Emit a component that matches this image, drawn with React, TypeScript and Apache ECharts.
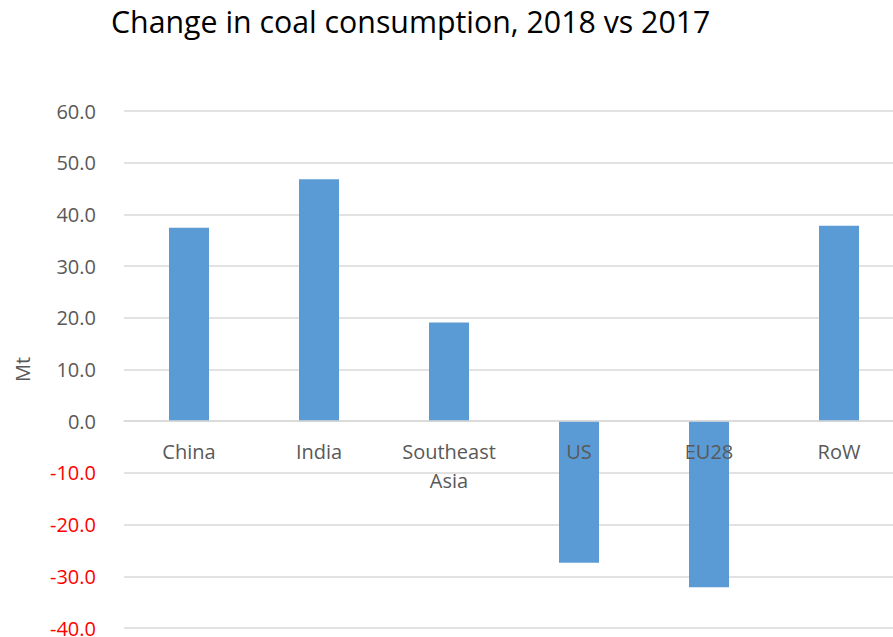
import React, { useEffect, useRef } from "react";
import * as echarts from "echarts";

const categories = ["China", "India", "Southeast\nAsia", "US", "EU28", "RoW"];
const values = [37.4, 46.8, 19.1, -27.4, -32.1, 37.8];
const yMin = -40;
const yMax = 60;
const yInterval = 10;
const titleText = "Change in coal consumption, 2018 vs 2017";
const yAxisName = "Mt";

export default function App() {
  const ref = useRef<HTMLDivElement>(null);
  useEffect(() => {
    document.body.style.margin = "0";
    const chart = echarts.init(ref.current!, null, { renderer: "svg" });
    const font = "'Open Sans', 'Noto Sans', sans-serif";
    const H = 637;
    const gridTop = 111;
    const gridBottom = 9;
    const plotH = H - gridTop - gridBottom;
    const zeroOffset = -((0 - yMin) / (yMax - yMin)) * plotH;
    chart.setOption({
      animation: false,
      backgroundColor: "#ffffff",
      title: {
        text: titleText,
        left: 106,
        top: 1,
        textStyle: { fontFamily: font, fontSize: 30.3, fontWeight: "normal", color: "#000000" },
      },
      grid: {
        left: 124,
        right: -11,
        top: gridTop,
        bottom: gridBottom,
        containLabel: false,
        outerBoundsMode: "none",
      },
      xAxis: {
        type: "category",
        data: categories,
        z: 5,
        position: "bottom",
        offset: zeroOffset,
        axisLine: { show: true, onZero: false, lineStyle: { color: "#d9d9d9", width: 1.5 } },
        axisTick: { show: false },
        axisLabel: {
          interval: 0,
          margin: 16,
          fontFamily: font,
          fontSize: 20,
          color: "#595959",
          lineHeight: 29,
        },
      },
      yAxis: {
        type: "value",
        min: yMin,
        max: yMax,
        interval: yInterval,
        name: yAxisName,
        nameLocation: "middle",
        nameRotate: 90,
        nameGap: 92,
        nameTextStyle: { fontFamily: font, fontSize: 20, color: "#595959" },
        axisLine: { show: false },
        axisTick: { show: false },
        splitLine: { lineStyle: { color: "#d9d9d9", width: 1.5 } },
        axisLabel: {
          margin: 28,
          fontFamily: font,
          fontSize: 20,
          lineHeight: 16,
          formatter: (v: number) => v.toFixed(1),
          color: (v: any) => (Number(v) < 0 ? "#ff0000" : "#595959"),
        },
      },
      series: [
        {
          type: "bar",
          data: values,
          barWidth: 40,
          itemStyle: { color: "#5b9bd5" },
        },
      ],
    });
    return () => chart.dispose();
  }, []);
  return <div ref={ref} style={{ width: 893, height: 637 }} />;
}
